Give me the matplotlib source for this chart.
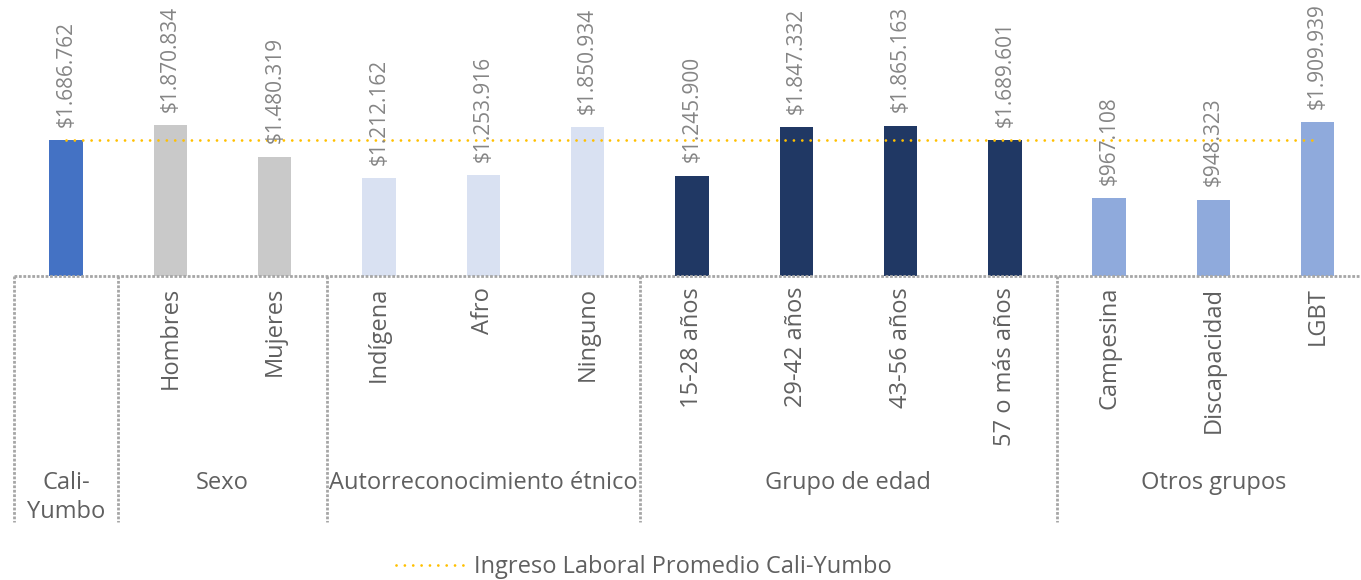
import numpy as np
import matplotlib.pyplot as plt
from matplotlib.transforms import blended_transform_factory
from matplotlib.lines import Line2D

plt.rcParams["font.family"] = ["Open Sans", "DejaVu Sans"]

categories = ["Cali-Yumbo", "Hombres", "Mujeres", "Indígena", "Afro", "Ninguno",
              "15-28 años", "29-42 años", "43-56 años", "57 o más años",
              "Campesina", "Discapacidad", "LGBT"]
values = [1686762, 1870834, 1480319, 1212162, 1253916, 1850934,
          1245900, 1847332, 1865163, 1689601,
          967108, 948323, 1909939]
promedio = 1686762
groups = ["Cali-\nYumbo", "Sexo", "Autorreconocimiento étnico", "Grupo de edad", "Otros grupos"]
group_sizes = [1, 2, 3, 4, 3]
group_colors = ["#4472C4", "#C9C9C9", "#D9E1F2", "#203864", "#8FAADC"]

colors = []
for c, n in zip(group_colors, group_sizes):
    colors += [c] * n

W, H = 1361, 580
fig = plt.figure(figsize=(W / 100, H / 100), dpi=100)
ax = fig.add_axes([14 / W, 1 - 276 / H, (13 * 104.3) / W, 276 / H])

x = np.arange(len(categories))
ax.bar(x, values, width=0.32, color=colors, zorder=2)
ax.plot(x, [promedio] * len(x), color="#FFC000", lw=2,
        ls=(0, (0.01, 3)), dash_capstyle="round", zorder=3,
        label="Ingreso Laboral Promedio Cali-Yumbo")

ax.set_xlim(-0.5, len(x) - 0.5)
ax.set_ylim(0, promedio * 276 / 136)
ax.axis("off")

txt_gray = "#606060"
fs = 17
for xi, v in zip(x, values):
    lbl = "$" + f"{v:,}".replace(",", ".")
    ax.annotate(lbl, (xi, v), xytext=(0, 9.5), textcoords="offset points",
                rotation=90, ha="center", va="bottom", fontsize=15,
                color="#858585", zorder=4)

tr = blended_transform_factory(ax.transData, fig.transFigure)
# baseline
fig.add_artist(Line2D([14 / W, 1], [1 - 276 / H] * 2, color="#A6A6A6",
                      lw=2, ls=(0, (1, 0.6))))

# category labels
for xi, c in zip(x[1:], categories[1:]):
    ax.text(xi, 1 - 287 / H, c, transform=tr, rotation=90, ha="center", va="top",
            fontsize=fs, color=txt_gray)

# group separators and labels
bounds = np.cumsum([0] + group_sizes) - 0.5
for b in bounds[:-1]:
    ax.plot([b, b], [1 - 276 / H, 1 - 522 / H], transform=tr, clip_on=False,
            color="#A6A6A6", lw=2, ls=(0, (1, 0.6)))
for i, g in enumerate(groups):
    cx = (bounds[i] + bounds[i + 1]) / 2
    ax.text(cx, 1 - 471 / H, g, transform=tr, ha="center", va="top",
            fontsize=fs, color=txt_gray, linespacing=1.25)

fig.legend(loc="center", bbox_to_anchor=(644 / W, 1 - 567 / H), frameon=False,
           handlelength=3.0, handletextpad=0.3,
           labelcolor=txt_gray, prop={"size": fs})

fig.savefig("out.png", dpi=100, facecolor="w")
